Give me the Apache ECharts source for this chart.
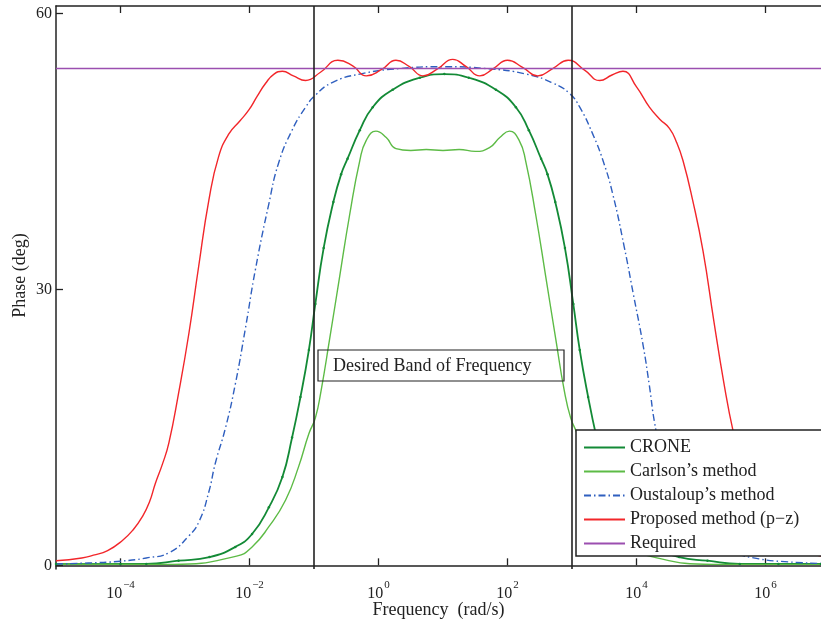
<!DOCTYPE html>
<html>
<head>
<meta charset="utf-8">
<script src="https://cdn.jsdelivr.net/npm/echarts@6/dist/echarts.min.js"></script>
<style>
  html, body { margin: 0; padding: 0; background: #fff; }
  #chart { width: 821px; height: 623px; }
</style>
</head>
<body>
<div id="chart"></div>
<script>
// Phase responses of fractional-order approximations (frequency given as log10 of rad/s)
const seriesNames = ['CRONE', 'Carlson\u2019s method', 'Oustaloup\u2019s method', 'Proposed method (p\u2212z)', 'Required'];

const croneExp = [-5.0, -4.0, -3.6, -3.1, -2.62, -2.22, -1.96, -1.70, -1.49, -1.34, -1.21, -1.08, -0.98, -0.85, -0.70, -0.58, -0.48, -0.29, -0.09, 0.22, 0.64, 1.02, 1.40, 1.82, 2.13, 2.33, 2.52, 2.62, 2.74, 2.89, 3.02, 3.12, 3.25, 3.38, 3.53, 3.74, 4.00, 4.26, 4.66, 5.1, 5.6, 6.2, 6.86];
const cronePhase = [0.15, 0.15, 0.15, 0.5, 0.9, 2.0, 3.4, 6.3, 9.6, 13.9, 18.3, 23.4, 28.4, 34.5, 39.5, 42.5, 44.2, 47.3, 49.8, 51.7, 53.0, 53.4, 53.0, 51.7, 49.8, 47.3, 44.2, 42.5, 39.5, 34.5, 28.4, 23.4, 18.3, 13.9, 9.6, 6.3, 3.4, 2.0, 0.9, 0.5, 0.15, 0.15, 0.15];

const carlsonExp = [-5.0, -4.0, -3.19, -2.2, -1.96, -1.70, -1.44, -1.24, -1.08, -0.98, -0.89, -0.76, -0.60, -0.45, -0.29, -0.19, -0.04, 0.12, 0.27, 0.50, 0.74, 1.00, 1.25, 1.50, 1.72, 1.88, 2.03, 2.18, 2.28, 2.44, 2.59, 2.75, 2.88, 2.98, 3.08, 3.24, 3.44, 3.70, 3.96, 4.20, 5.19, 6.0, 6.86];
const carlsonPhase = [0.15, 0.12, 0.1, 1.0, 2.0, 4.2, 7.1, 10.7, 14.3, 16.0, 19.0, 24.5, 31.5, 38.0, 44.0, 46.2, 47.2, 46.5, 45.3, 45.1, 45.2, 45.1, 45.2, 45.0, 45.4, 46.5, 47.2, 46.2, 44.0, 38.0, 31.5, 24.5, 19.0, 16.0, 14.3, 10.7, 7.1, 4.2, 2.0, 1.0, 0.1, 0.1, 0.1];

const oustaloupExp = [-5.0, -4.5, -4.0, -3.6, -3.24, -2.94, -2.78, -2.63, -2.53, -2.37, -2.22, -2.06, -1.91, -1.70, -1.55, -1.34, -1.13, -0.98, -0.71, -0.29, 0.33, 1.00, 1.67, 2.29, 2.71, 2.96, 3.12, 3.32, 3.48, 3.63, 3.81, 3.95, 4.10, 4.20, 4.28, 4.40, 4.55, 4.70, 4.85, 5.0, 5.2, 5.5, 5.9, 6.3, 6.86];
const oustaloupPhase = [0.15, 0.25, 0.45, 0.8, 1.4, 3.2, 4.8, 8.0, 11.1, 15.0, 19.7, 25.9, 32.1, 39.3, 43.7, 47.3, 49.8, 51.1, 52.5, 53.4, 54.0, 54.2, 54.0, 53.4, 52.4, 51.3, 49.8, 46.9, 44.0, 40.4, 34.6, 29.5, 24.0, 19.5, 15.5, 11.5, 8.5, 6.2, 4.6, 3.4, 2.4, 1.4, 0.7, 0.4, 0.2];

const proposedExp = [-5.0, -4.6, -4.42, -4.2, -3.97, -3.8, -3.66, -3.55, -3.46, -3.35, -3.25, -3.10, -2.94, -2.79, -2.63, -2.48, -2.32, -2.15, -2.01, -1.88, -1.75, -1.62, -1.49, -1.32, -1.13, -0.90, -0.63, -0.40, -0.19, 0.05, 0.27, 0.48, 0.69, 0.92, 1.15, 1.36, 1.57, 1.78, 2.00, 2.24, 2.47, 2.70, 2.94, 3.20, 3.43, 3.62, 3.79, 4.00, 4.20, 4.36, 4.51, 4.62, 4.72, 4.87, 5.03, 5.20, 5.35, 5.50, 5.65, 5.80, 6.00, 6.30, 6.60, 6.86];
const proposedPhase = [0.5, 0.8, 1.1, 1.6, 2.7, 3.9, 5.3, 6.9, 8.9, 11.0, 13.3, 18.7, 25.2, 32.4, 39.7, 44.4, 46.9, 48.3, 49.5, 51.0, 52.4, 53.4, 53.7, 53.2, 52.7, 53.6, 54.9, 54.3, 53.2, 53.9, 54.9, 54.2, 53.2, 54.0, 55.0, 54.2, 53.2, 54.0, 54.9, 54.1, 53.2, 54.0, 54.9, 53.8, 52.7, 53.3, 53.7, 52.0, 49.8, 48.5, 47.5, 46.0, 44.0, 39.7, 34.2, 26.5, 20.0, 14.5, 10.5, 7.5, 4.5, 2.4, 1.5, 1.0];

const requiredExp = [-5.0, 6.86];
const requiredPhase = [54.0, 54.0];

// Edges of the desired frequency band (rad/s)
const bandEdges = [0.1, 1000];
const bandLabel = 'Desired Band of Frequency';

// Axis ticks
const xTickValues = [1e-4, 1e-2, 1, 1e2, 1e4, 1e6];
const yTickValues = [0, 30, 60];

const FONT = '"Liberation Serif", "DejaVu Serif", serif';
const INK = '#222';

const toPairs = (exps, vals) => exps.map((e, i) => [Math.pow(10, e), vals[i]]);

const colors = {
  crone: '#138a36',
  carlson: '#5dbb46',
  oustaloup: '#2f5fbf',
  proposed: '#f2262a',
  required: '#9b4fb0'
};

const expLabel = v => {
  const e = Math.round(Math.log10(v));
  const s = e < 0 ? '\u2212' + (-e) : String(e);
  return '{b|10}{s|' + s + '}';
};

const xAxisCommon = {
  type: 'log',
  logBase: 10,
  min: 1e-5,
  max: Math.pow(10, 6.86),
  axisLine: { show: true, lineStyle: { color: INK, width: 1.5 } },
  axisTick: { show: true, inside: true, length: 7, customValues: xTickValues, lineStyle: { color: INK, width: 1.3 } },
  minorTick: { show: false },
  splitLine: { show: false },
  minorSplitLine: { show: false }
};

const chart = echarts.init(document.getElementById('chart'), null, { renderer: 'canvas' });

chart.setOption({
  animation: false,
  backgroundColor: '#fff',
  grid: { left: 56, right: 0, top: 6, bottom: 54, containLabel: false, outerBoundsMode: 'none' },
  xAxis: [
    Object.assign({}, xAxisCommon, {
      position: 'bottom',
      name: 'Frequency  (rad/s)',
      nameLocation: 'middle',
      nameGap: 32,
      nameMoveOverlap: false,
      nameTextStyle: { fontFamily: FONT, fontSize: 18, color: INK },
      axisLabel: {
        show: true,
        customValues: xTickValues,
        margin: 9,
        formatter: expLabel,
        rich: {
          b: { fontFamily: FONT, fontSize: 16, color: INK, padding: [8, 0, 0, 0] },
          s: { fontFamily: FONT, fontSize: 11, color: INK, padding: [0, 0, 9, 1] }
        }
      }
    }),
    Object.assign({}, xAxisCommon, {
      position: 'top',
      axisLabel: { show: false }
    })
  ],
  yAxis: {
    type: 'value',
    min: -0.4,
    max: 60.8,
    name: 'Phase (deg)',
    nameLocation: 'middle',
    nameGap: 27,
    nameRotate: 90,
    nameMoveOverlap: false,
    nameTextStyle: { fontFamily: FONT, fontSize: 18, color: INK, padding: [0, 0, 0, 24] },
    axisLine: { show: true, lineStyle: { color: INK, width: 1.5 } },
    axisTick: { show: true, inside: true, length: 7, customValues: yTickValues, lineStyle: { color: INK, width: 1.3 } },
    axisLabel: { show: true, customValues: yTickValues, margin: 4, fontFamily: FONT, fontSize: 16, color: INK },
    splitLine: { show: false }
  },
  legend: {
    orient: 'vertical',
    left: 576,
    top: 430,
    backgroundColor: '#fff',
    borderColor: INK,
    borderWidth: 1.5,
    borderRadius: 0,
    padding: [8, 40, 3, 7],
    itemWidth: 41,
    itemHeight: 12,
    itemGap: 5,
    itemStyle: { opacity: 0 },
    textStyle: { fontFamily: FONT, fontSize: 18, color: INK, lineHeight: 19 },
    data: seriesNames
  },
  graphic: [
    {
      type: 'rect',
      shape: { x: 318, y: 350, width: 246, height: 31 },
      style: { fill: 'none', stroke: INK, lineWidth: 1.2 },
      z: 10
    },
    {
      type: 'text',
      x: 333,
      y: 366,
      style: { text: bandLabel, font: '18px "Liberation Serif", serif', fill: INK, verticalAlign: 'middle' },
      z: 10
    }
  ],
  series: [
    {
      name: seriesNames[0],
      type: 'line',
      data: toPairs(croneExp, cronePhase),
      smooth: true,
      symbol: 'circle',
      symbolSize: 2.5,
      showSymbol: true,
      itemStyle: { color: colors.crone },
      lineStyle: { color: colors.crone, width: 1.8 },
      z: 3
    },
    {
      name: seriesNames[1],
      type: 'line',
      data: toPairs(carlsonExp, carlsonPhase),
      smooth: true,
      symbol: 'none',
      itemStyle: { color: colors.carlson },
      lineStyle: { color: colors.carlson, width: 1.4 },
      z: 3
    },
    {
      name: seriesNames[2],
      type: 'line',
      data: toPairs(oustaloupExp, oustaloupPhase),
      smooth: true,
      symbol: 'none',
      itemStyle: { color: colors.oustaloup },
      lineStyle: { color: colors.oustaloup, width: 1.4, type: [7, 3, 1.5, 3] },
      z: 3
    },
    {
      name: seriesNames[3],
      type: 'line',
      data: toPairs(proposedExp, proposedPhase),
      smooth: true,
      symbol: 'none',
      itemStyle: { color: colors.proposed },
      lineStyle: { color: colors.proposed, width: 1.4 },
      z: 3
    },
    {
      name: seriesNames[4],
      type: 'line',
      data: toPairs(requiredExp, requiredPhase),
      symbol: 'none',
      itemStyle: { color: colors.required },
      lineStyle: { color: colors.required, width: 1.4 },
      z: 3,
      markLine: {
        silent: true,
        symbol: ['none', 'none'],
        label: { show: false },
        lineStyle: { color: INK, width: 1.6, type: 'solid' },
        data: bandEdges.map(v => ({ xAxis: v }))
      }
    }
  ]
});
</script>
</body>
</html>
